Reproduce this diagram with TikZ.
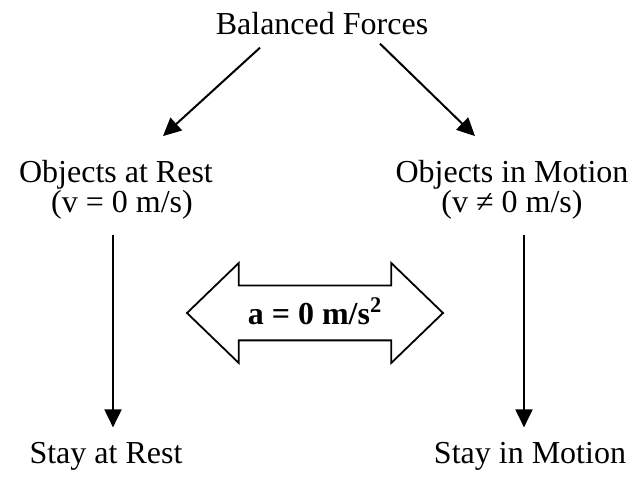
\documentclass[tikz,border=0pt]{standalone}
\usepackage{fontspec}
\setmainfont{Liberation Serif}
\usetikzlibrary{arrows.meta,positioning,shapes.arrows}
\tikzset{
  lbl/.style={font=\fontsize{16}{15}\selectfont,align=center,inner sep=0pt},
  arr/.style={-{Triangle[length=9pt,width=8.5pt]},line width=1pt},
  dblarr/.style={draw,shape=double arrow,line width=0.9pt,double arrow head extend=11.25pt,
    double arrow tip angle=88,minimum height=128pt,inner xsep=4pt,inner ysep=7.25pt,
    text height=12pt,text depth=0pt,font=\fontsize{16}{15}\selectfont\bfseries}
}

\begin{document}
\begin{tikzpicture}[x=0.5pt,y=-0.5pt]
  \useasboundingbox (0,0) rectangle (633,481);
  % Top
  \node[lbl, anchor=base] (bal) at (322,35) {Balanced Forces};

  % Two cases
  \node[lbl] (rest) at (116,190) {Objects at Rest\\\hspace*{6pt}(v = 0 m/s)};
  \node[lbl] (motion) at (512,190) {Objects in Motion\\(v ≠ 0 m/s)};

  % Results
  \node[lbl, anchor=base] (stayrest) at (106,463) {Stay at Rest};
  \node[lbl, anchor=base] (staymotion) at (530,463) {Stay in Motion};

  % Acceleration
  \node[dblarr] (accel) at (315,313) {a = 0 m/s\textsuperscript{2}};

  % Connections
  \draw[arr] ([xshift=-31pt,yshift=-6pt]bal.south) -- ([xshift=23.5pt,yshift=12pt]rest.north);
  \draw[arr] ([xshift=29pt,yshift=-4pt]bal.south) -- ([xshift=-18.5pt,yshift=12pt]motion.north);
  \draw[arr] ([xshift=-1.5pt,yshift=-7.5pt]rest.south) -- ([xshift=3.5pt,yshift=7pt]stayrest.north);
  \draw[arr] ([xshift=6pt,yshift=-7.5pt]motion.south) -- ([xshift=-3pt,yshift=7pt]staymotion.north);
\end{tikzpicture}
\end{document}
